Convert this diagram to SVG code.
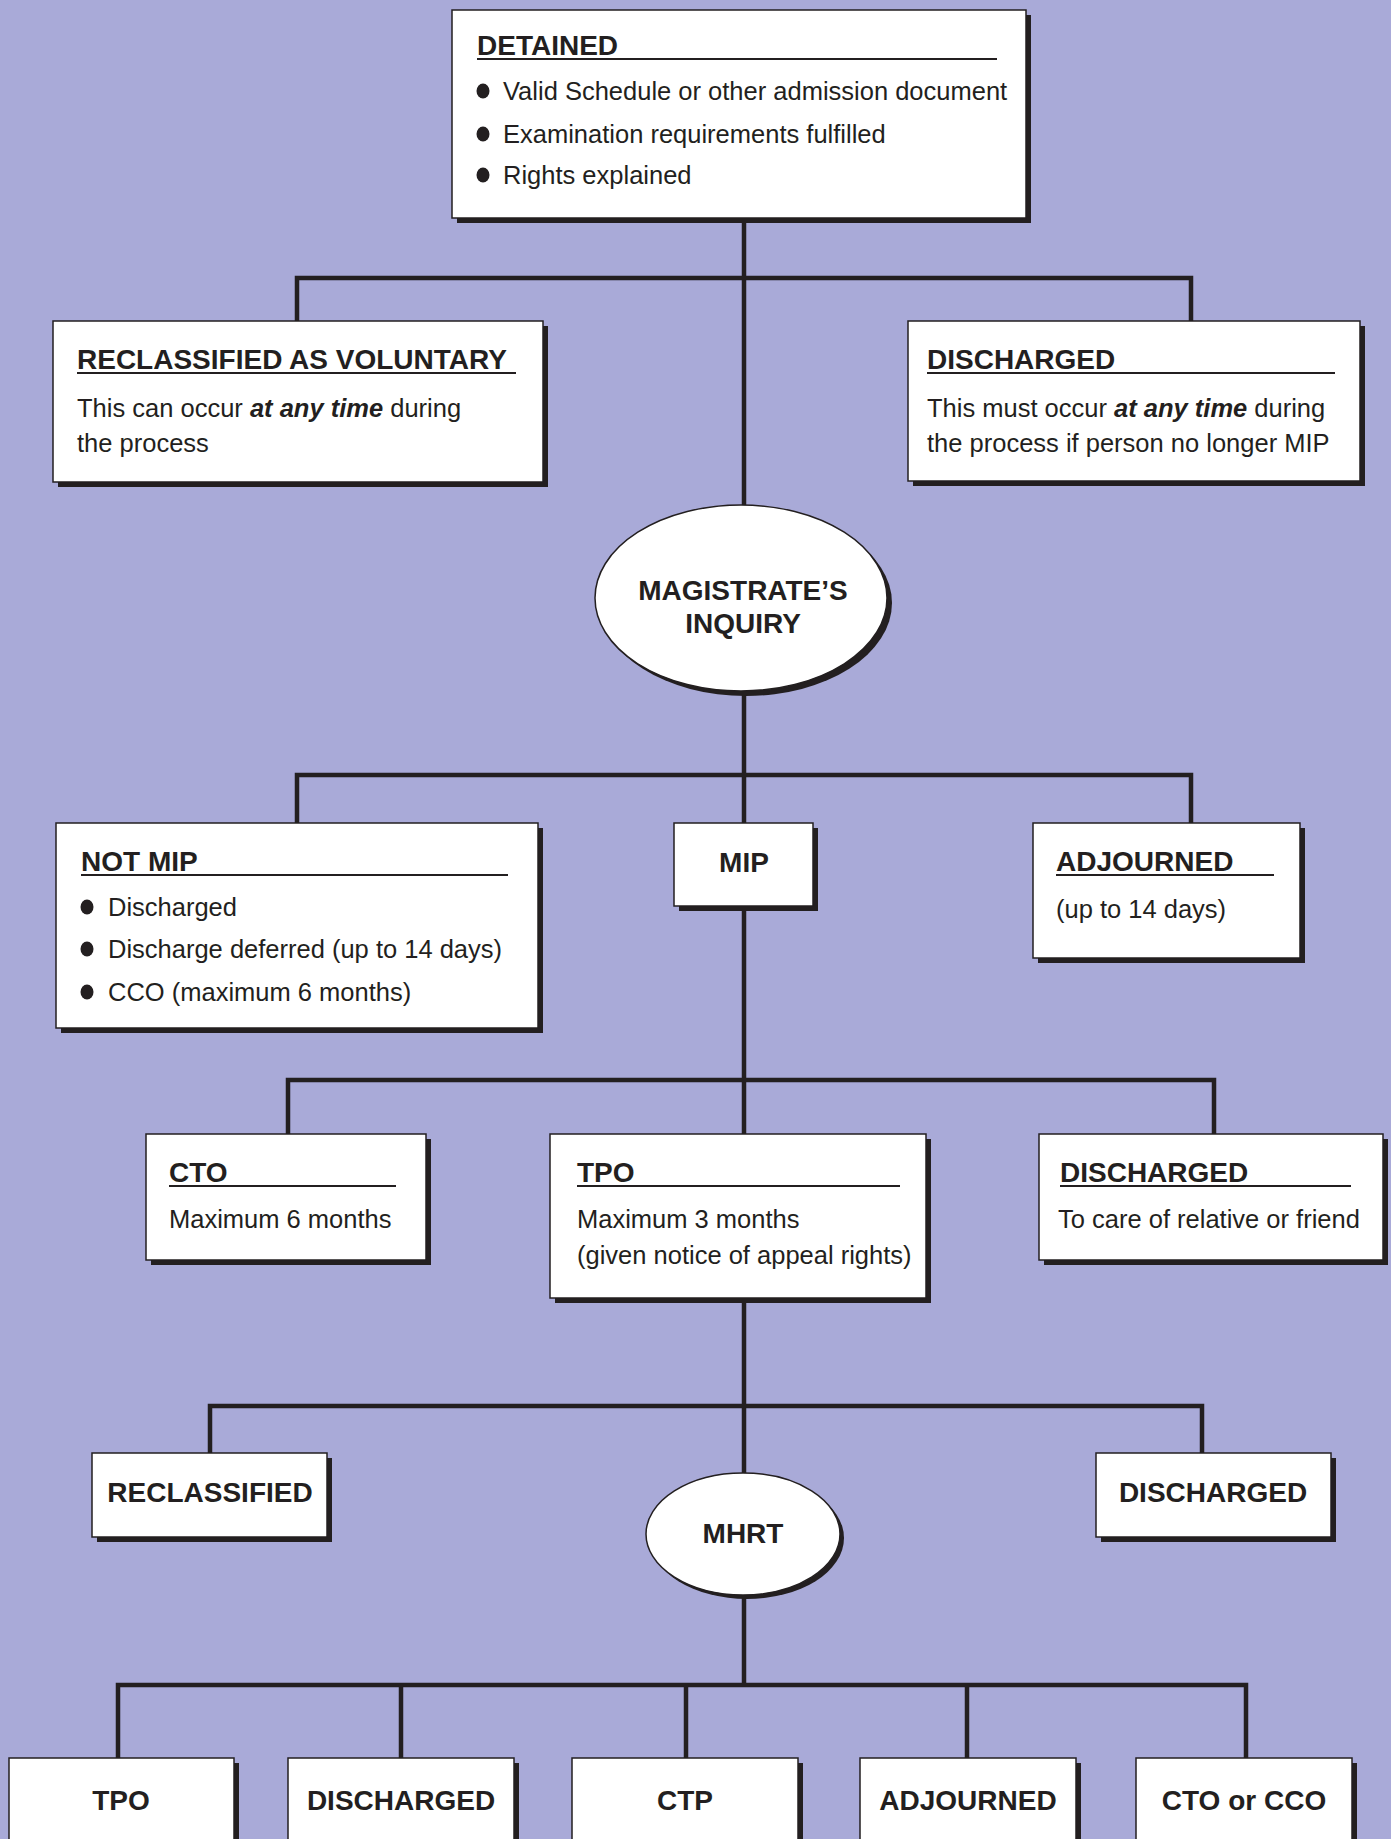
<svg xmlns="http://www.w3.org/2000/svg" width="1391" height="1839" viewBox="0 0 1391 1839">
  <defs>
    <style>
      .bg { fill: #a9aad8; }
      .box { fill: #ffffff; stroke: #231f20; stroke-width: 1.5; }
      .shadow { fill: #231f20; }
      .link { fill: none; stroke: #231f20; stroke-width: 4.5; stroke-linejoin: miter; stroke-linecap: butt; }
      .title { font-family: "Liberation Sans", Arial, sans-serif; font-weight: bold; font-size: 28px; fill: #231f20; }
      .body { font-family: "Liberation Sans", Arial, sans-serif; font-size: 25.5px; fill: #231f20; }
      .em { font-weight: bold; font-style: italic; }
      .rule { stroke: #231f20; stroke-width: 2; }
      .dot { fill: #231f20; }
      .c { text-anchor: middle; }
    </style>
  </defs>

  <rect class="bg" x="0" y="0" width="1391" height="1839"/>

  <!-- connectors -->
  <g id="connectors">
    <!-- main trunk segments -->
    <path class="link" d="M744,218 V506"/>
    <path class="link" d="M744,690 V823"/>
    <path class="link" d="M744,906 V1134"/>
    <path class="link" d="M744,1298 V1474"/>
    <path class="link" d="M744,1594 V1685"/>
    <!-- branch bars -->
    <path class="link" d="M297,321 V278 H1191 V321"/>
    <path class="link" d="M297,823 V775 H1191 V823"/>
    <path class="link" d="M288,1134 V1080 H1214 V1134"/>
    <path class="link" d="M210,1453 V1406 H1202 V1453"/>
    <path class="link" d="M118,1758 V1685 H1246 V1758"/>
    <path class="link" d="M401,1685 V1758"/>
    <path class="link" d="M686,1685 V1758"/>
    <path class="link" d="M967,1685 V1758"/>
  </g>

  <!-- detained -->
  <g id="detained">
    <rect class="shadow" x="457" y="15" width="574" height="208"/>
    <rect class="box" x="452" y="10" width="574" height="208"/>
    <text class="title" x="477" y="55">DETAINED</text>
    <line class="rule" x1="477" y1="59" x2="997" y2="59"/>
    <ellipse class="dot" cx="483" cy="91" rx="6.5" ry="7.5"/>
    <text class="body" x="503" y="100">Valid Schedule or other admission document</text>
    <ellipse class="dot" cx="483" cy="134" rx="6.5" ry="7.5"/>
    <text class="body" x="503" y="143">Examination requirements fulfilled</text>
    <ellipse class="dot" cx="483" cy="175" rx="6.5" ry="7.5"/>
    <text class="body" x="503" y="184">Rights explained</text>
  </g>

  <!-- reclassified as voluntary -->
  <g id="reclassified-voluntary">
    <rect class="shadow" x="58" y="326" width="490" height="161"/>
    <rect class="box" x="53" y="321" width="490" height="161"/>
    <text class="title" x="77" y="369">RECLASSIFIED AS VOLUNTARY</text>
    <line class="rule" x1="77" y1="373" x2="516" y2="373"/>
    <text class="body" x="77" y="417">This can occur <tspan class="em">at any time</tspan> during</text>
    <text class="body" x="77" y="452">the process</text>
  </g>

  <!-- discharged (any time) -->
  <g id="discharged-any-time">
    <rect class="shadow" x="913" y="326" width="452" height="160"/>
    <rect class="box" x="908" y="321" width="452" height="160"/>
    <text class="title" x="927" y="369">DISCHARGED</text>
    <line class="rule" x1="927" y1="373" x2="1335" y2="373"/>
    <text class="body" x="927" y="417">This must occur <tspan class="em">at any time</tspan> during</text>
    <text class="body" x="927" y="452">the process if person no longer MIP</text>
  </g>

  <!-- magistrate's inquiry -->
  <g id="magistrates-inquiry">
    <ellipse class="shadow" cx="746" cy="603" rx="146" ry="93"/>
    <ellipse class="box" cx="741" cy="598" rx="146" ry="93"/>
    <text class="title c" x="743" y="600">MAGISTRATE’S</text>
    <text class="title c" x="743" y="633">INQUIRY</text>
  </g>

  <!-- not MIP -->
  <g id="not-mip">
    <rect class="shadow" x="61" y="828" width="482" height="205"/>
    <rect class="box" x="56" y="823" width="482" height="205"/>
    <text class="title" x="81" y="871">NOT MIP</text>
    <line class="rule" x1="81" y1="875" x2="508" y2="875"/>
    <ellipse class="dot" cx="87" cy="907" rx="6.5" ry="7.5"/>
    <text class="body" x="108" y="916">Discharged</text>
    <ellipse class="dot" cx="87" cy="949" rx="6.5" ry="7.5"/>
    <text class="body" x="108" y="958">Discharge deferred (up to 14 days)</text>
    <ellipse class="dot" cx="87" cy="992" rx="6.5" ry="7.5"/>
    <text class="body" x="108" y="1001">CCO (maximum 6 months)</text>
  </g>

  <!-- MIP -->
  <g id="mip">
    <rect class="shadow" x="679" y="828" width="139" height="83"/>
    <rect class="box" x="674" y="823" width="139" height="83"/>
    <text class="title c" x="744" y="872">MIP</text>
  </g>

  <!-- adjourned (magistrate) -->
  <g id="adjourned-inquiry">
    <rect class="shadow" x="1038" y="828" width="267" height="135"/>
    <rect class="box" x="1033" y="823" width="267" height="135"/>
    <text class="title" x="1056" y="871">ADJOURNED</text>
    <line class="rule" x1="1056" y1="875" x2="1274" y2="875"/>
    <text class="body" x="1056" y="918">(up to 14 days)</text>
  </g>

  <!-- CTO -->
  <g id="cto">
    <rect class="shadow" x="151" y="1139" width="280" height="126"/>
    <rect class="box" x="146" y="1134" width="280" height="126"/>
    <text class="title" x="169" y="1182">CTO</text>
    <line class="rule" x1="169" y1="1186" x2="396" y2="1186"/>
    <text class="body" x="169" y="1228">Maximum 6 months</text>
  </g>

  <!-- TPO -->
  <g id="tpo">
    <rect class="shadow" x="555" y="1139" width="376" height="164"/>
    <rect class="box" x="550" y="1134" width="376" height="164"/>
    <text class="title" x="577" y="1182">TPO</text>
    <line class="rule" x1="577" y1="1186" x2="900" y2="1186"/>
    <text class="body" x="577" y="1228">Maximum 3 months</text>
    <text class="body" x="577" y="1264">(given notice of appeal rights)</text>
  </g>

  <!-- discharged to relative -->
  <g id="discharged-to-relative">
    <rect class="shadow" x="1044" y="1139" width="344" height="126"/>
    <rect class="box" x="1039" y="1134" width="344" height="126"/>
    <text class="title" x="1060" y="1182">DISCHARGED</text>
    <line class="rule" x1="1060" y1="1186" x2="1351" y2="1186"/>
    <text class="body" x="1058" y="1228">To care of relative or friend</text>
  </g>

  <!-- reclassified -->
  <g id="reclassified">
    <rect class="shadow" x="97" y="1458" width="235" height="84"/>
    <rect class="box" x="92" y="1453" width="235" height="84"/>
    <text class="title c" x="210" y="1502">RECLASSIFIED</text>
  </g>

  <!-- discharged (tribunal level) -->
  <g id="discharged-review">
    <rect class="shadow" x="1101" y="1458" width="235" height="84"/>
    <rect class="box" x="1096" y="1453" width="235" height="84"/>
    <text class="title c" x="1213" y="1502">DISCHARGED</text>
  </g>

  <!-- MHRT -->
  <g id="mhrt">
    <ellipse class="shadow" cx="747" cy="1538" rx="97" ry="61"/>
    <ellipse class="box" cx="743" cy="1534" rx="97" ry="61"/>
    <text class="title c" x="743" y="1543">MHRT</text>
  </g>

  <!-- MHRT outcomes -->
  <g id="outcome-tpo">
    <rect class="shadow" x="14" y="1763" width="225" height="100"/>
    <rect class="box" x="9" y="1758" width="225" height="100"/>
    <text class="title c" x="121" y="1810">TPO</text>
  </g>
  <g id="outcome-discharged">
    <rect class="shadow" x="293" y="1763" width="226" height="100"/>
    <rect class="box" x="288" y="1758" width="226" height="100"/>
    <text class="title c" x="401" y="1810">DISCHARGED</text>
  </g>
  <g id="outcome-ctp">
    <rect class="shadow" x="577" y="1763" width="226" height="100"/>
    <rect class="box" x="572" y="1758" width="226" height="100"/>
    <text class="title c" x="685" y="1810">CTP</text>
  </g>
  <g id="outcome-adjourned">
    <rect class="shadow" x="865" y="1763" width="216" height="100"/>
    <rect class="box" x="860" y="1758" width="216" height="100"/>
    <text class="title c" x="968" y="1810">ADJOURNED</text>
  </g>
  <g id="outcome-cto-cco">
    <rect class="shadow" x="1141" y="1763" width="216" height="100"/>
    <rect class="box" x="1136" y="1758" width="216" height="100"/>
    <text class="title c" x="1244" y="1810">CTO or CCO</text>
  </g>
</svg>
